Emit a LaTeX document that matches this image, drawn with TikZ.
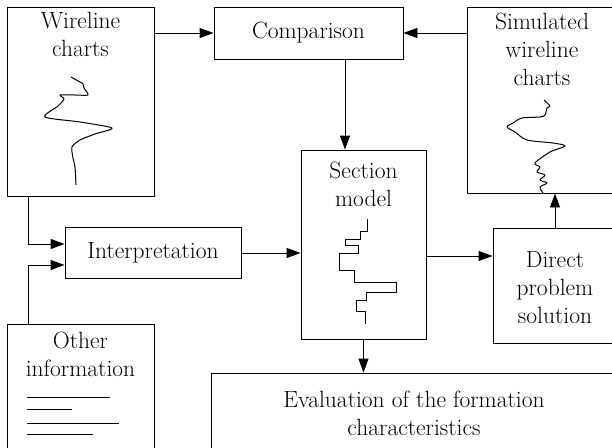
\documentclass[tikz,border=0pt]{standalone}
\usetikzlibrary{arrows.meta}
\begin{document}
\begin{tikzpicture}[x=1pt,y=-1pt,
  box/.style={draw, line width=0.9pt, inner sep=0pt},
  lbl/.style={inner sep=0pt, align=center, anchor=north, font=\fontsize{23.5}{28}\selectfont},
  txt/.style={font=\fontsize{23.5}{28}\selectfont},
  flow/.style={line width=0.9pt, -{Triangle[length=14pt,width=10pt]}},
  trace/.style={line width=1pt, line join=round},
  rule/.style={line width=1pt}]
\clip (0,0) rectangle (612,447);

% boxes
\node[box, minimum width=147pt, minimum height=189pt] (wire) at (80.5,101.5) {};
\node[box, txt, minimum width=189pt, minimum height=52pt] (comp) at (308.5,33) {Comparison};
\node[box, minimum width=173pt, minimum height=186pt] (sim) at (553.5,100) {};
\node[box, minimum width=125pt, minimum height=189pt] (sect) at (363.5,244.5) {};
\node[box, txt, minimum width=176pt, minimum height=51pt] (interp) at (153,253) {Interpretation};
\node[box, minimum width=157pt, minimum height=115pt] (direct) at (571.5,285.5) {};
\node[box, minimum width=147pt, minimum height=146pt] (other) at (80.5,397) {};
\node[box, minimum width=439pt, minimum height=97pt] (eval) at (430.5,421.5) {};

% box captions
\node[lbl] (wiretext) at (80.5,12) {Wireline\\charts};
\node[lbl] (simtext) at (542,13) {Simulated\\wireline\\charts};
\node[lbl] (secttext) at (363.5,162) {Section\\model};
\node[lbl] (othertext) at (80.5,332) {Other\\information};
\node[lbl] (directtext) at (555,251) {Direct\\problem\\solution};
\node[lbl] (evaltext) at (414,391) {Evaluation of the formation\\characteristics};

% guide coordinates for the connectors
\coordinate (xl) at (28,0);
\coordinate (xc) at (345,0);
\coordinate (xd) at (555,0);
\coordinate (ya) at (0,256);
\coordinate (yw) at (0,244);
\coordinate (yo) at (0,265);

% connectors
\draw[flow] (comp.west -| wire.east) -- (comp.west);
\draw[flow] (comp.east -| sim.west) -- (comp.east);
\draw[flow] (xc |- comp.south) -- (xc |- sect.north);
\draw[flow] (interp.east) -- (interp.east -| sect.west);
\draw[flow] (ya -| sect.east) -- (ya -| direct.west);
\draw[flow] (xd |- direct.north) -- (xd |- sim.south);
\draw[flow] (sect.south) -- (sect.south |- eval.north);
\draw[flow] (xl |- wire.south) -- (xl |- yw) -- (yw -| interp.west);
\draw[flow] (xl |- other.north) -- (xl |- yo) -- (yo -| interp.west);

% measured log trace
\draw[trace] plot[smooth, tension=0.45] coordinates {
  (71,77) (80,82) (83,84) (84,88) (88,95) (75,95) (60,95) (64,99) (58,106)
  (45,117) (80,122) (112,128) (95,134) (80,140) (72,147) (73,158) (75,167) (76,185)};

% simulated log trace
\draw[trace] plot[smooth, tension=0.5] coordinates {
  (544,100) (550,106) (547,108) (545,115) (540,117) (522,118) (513,123) (507,127)
  (515,132) (527,140) (553,143) (565,146) (550,152) (535,163) (540,167) (537,172)
  (545,175) (540,180) (547,183) (540,187) (543,193)};

% layered section model
\draw[trace, line join=miter] (367.3,219.3) -- (367.3,231.7) -- (360,231.7) -- (360,239.3)
  -- (345,239.3) -- (345,245) -- (358.3,245) -- (358.3,253.3) -- (339.3,253.3)
  -- (339.3,270) -- (354,270) -- (354,282.7) -- (396.7,282.7) -- (396.7,292.7)
  -- (366.7,292.7) -- (366.7,300) -- (356.7,300) -- (356.7,311) -- (365,311) -- (365,324);

% text lines in the other-information sheet
\draw[rule] (27,397) -- (110,397);
\draw[rule] (27,409) -- (72,409);
\draw[rule] (27,423) -- (119,423);
\draw[rule] (27,434) -- (93,434);
\end{tikzpicture}
\end{document}
